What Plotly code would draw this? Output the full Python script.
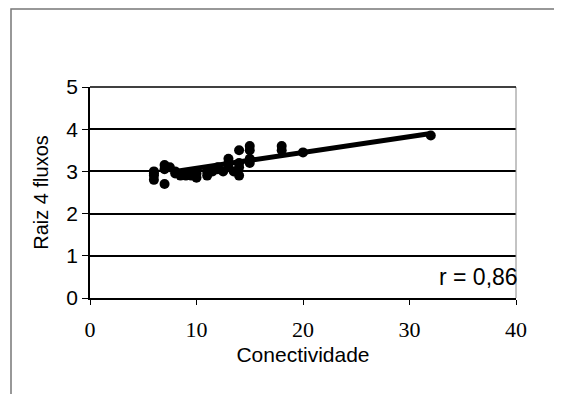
import plotly.graph_objects as go

# Data
conectividade = [6, 6, 6, 6, 7, 7, 7, 7.5, 8, 8, 8.5, 9, 9.5, 10, 10, 11, 11, 11.5,
                 12, 12, 12.5, 13, 13, 13, 13.5, 14, 14, 14, 14, 15, 15, 15, 15,
                 18, 18, 20, 32]
raiz4_fluxos = [3.0, 2.9, 2.8, 2.95, 3.15, 2.7, 3.05, 3.1, 3.0, 2.95, 2.9, 2.9, 2.9,
                2.85, 2.95, 2.9, 3.0, 3.0, 3.05, 3.1, 3.0, 3.3, 3.2, 3.1, 3.0,
                3.5, 2.9, 3.1, 3.2, 3.6, 3.5, 3.2, 3.3, 3.6, 3.5, 3.45, 3.85]
fit_x = [8, 32]
fit_y = [3.0, 3.9]
x_ticks = [0, 10, 20, 30, 40]
y_ticks = [0, 1, 2, 3, 4, 5]
r_label = "r = 0,86"

# page body has an 8px offset
OFF = 8
W, H = 562 - OFF, 394 - OFF
L, T = 90 - OFF, 87 - OFF
R = W - (516 - OFF)
B = H - (298 - OFF)
pw, ph = W - L - R, H - T - B

fig = go.Figure()
fig.add_trace(go.Scatter(x=fit_x, y=fit_y, mode="lines",
                         line=dict(color="black", width=5), showlegend=False))
fig.add_trace(go.Scatter(x=conectividade, y=raiz4_fluxos, mode="markers",
                         marker=dict(color="black", size=10), showlegend=False))


def px_x(p):
    return (p - OFF - L) / pw


def px_y(p):
    return (H - B - (p - OFF)) / ph


fig.update_layout(
    width=W, height=H,
    margin=dict(l=L, r=R, t=T, b=B),
    paper_bgcolor="white", plot_bgcolor="white",
    xaxis=dict(range=[0, 40], tickvals=x_ticks, showgrid=False, zeroline=False,
               showline=True, linecolor="black", linewidth=1.5, mirror=False,
               ticks="outside", ticklen=5, tickcolor="black", ticklabelstandoff=6,
               tickfont=dict(family="Liberation Serif", size=22, color="black"),
               title=dict(text="Conectividade", standoff=6,
                          font=dict(family="Liberation Sans", size=21, color="black"))),
    yaxis=dict(range=[0, 5], tickvals=y_ticks, showgrid=True, gridcolor="black",
               gridwidth=1.5, zeroline=False, showline=True, linecolor="black",
               linewidth=1.5, ticks="outside", ticklen=6, tickcolor="black",
               tickfont=dict(family="Liberation Sans", size=21, color="black"),
               title=dict(text="Raiz 4 fluxos", standoff=12,
                          font=dict(family="Liberation Sans", size=20, color="black"))),
    annotations=[dict(x=40, y=0.5, xref="x", yref="y", text=r_label, showarrow=False,
                      xanchor="right", yanchor="middle", xshift=4,
                      font=dict(family="Liberation Sans", size=23, color="black"))],
    shapes=[
        dict(type="line", xref="paper", yref="paper", x0=1, x1=1, y0=0, y1=1,
             line=dict(color="#888888", width=1)),
        dict(type="line", xref="paper", yref="paper", x0=0, x1=1, y0=1, y1=1,
             line=dict(color="black", width=1.5)),
        dict(type="rect", xref="paper", yref="paper",
             x0=px_x(11), x1=px_x(557), y0=px_y(398), y1=px_y(9),
             line=dict(color="#777777", width=1.5), layer="below"),
    ],
)

fig.write_html("out.html")
